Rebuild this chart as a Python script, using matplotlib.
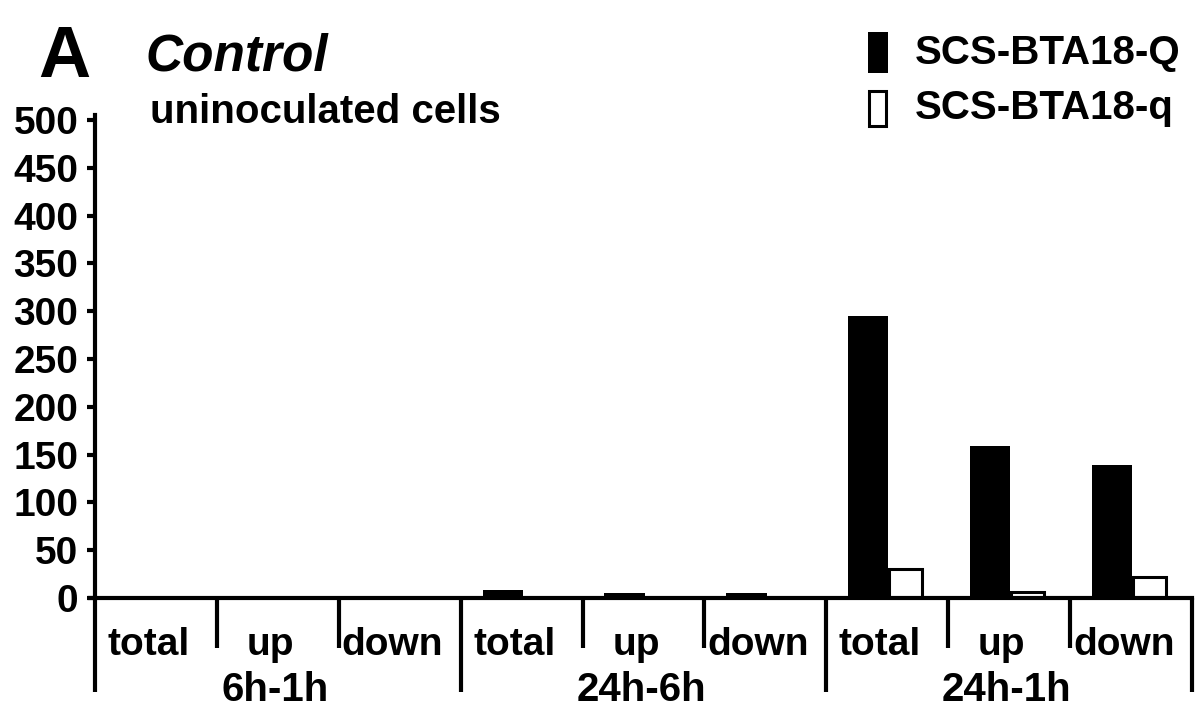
import numpy as np
import matplotlib.pyplot as plt

# data
groups = ['6h-1h', '24h-6h', '24h-1h']
categories = ['total', 'up', 'down'] * 3
q_upper = [0, 0, 0, 8, 5, 5, 295, 159, 139]   # SCS-BTA18-Q
q_lower = [0, 0, 0, 0, 0, 0, 30, 6, 22]       # SCS-BTA18-q
yticks = [0, 50, 100, 150, 200, 250, 300, 350, 400, 450, 500]

plt.rcParams['font.family'] = ['Liberation Sans', 'DejaVu Sans']
plt.rcParams['font.weight'] = 'bold'

fig = plt.figure(figsize=(12, 7.13), dpi=100)
ax = fig.add_axes([95 / 1200, 1 - 598 / 713, 1097 / 1200, 478 / 713])

x = np.arange(len(categories))
ax.bar(x - 0.02, q_upper, width=0.33, color='black', align='edge',
       edgecolor='black', linewidth=0)
ax.bar(x + 0.318, q_lower, width=0.27, color='white', align='edge',
       edgecolor='black', linewidth=2.2)

ax.set_xlim(-0.2, 8.8)
ax.set_ylim(0, 500)
ax.set_xticks([])
ax.set_yticks(yticks)
ax.tick_params(axis='y', direction='out', length=6, width=3, labelsize=28, pad=6)
for lab in ax.get_yticklabels():
    lab.set_fontweight('bold')

for s in ['top', 'right']:
    ax.spines[s].set_visible(False)
ax.spines['left'].set_linewidth(3)
ax.spines['bottom'].set_linewidth(3)
ax.spines['left'].set_bounds(0, 505)

tr = ax.get_xaxis_transform()
px = 1 / 478
# extend the y axis below the x axis
ax.plot([-0.2, -0.2], [0, -94 * px], transform=tr, color='black', lw=3,
        clip_on=False, solid_capstyle='butt')
ax.plot([-0.26, -0.2], [0, 0], transform=tr, color='black', lw=3,
        clip_on=False, solid_capstyle='butt')

# bracket ticks below the axis
for b in range(1, 10):
    xb = b - 0.2
    depth = 94 if b % 3 == 0 else 50
    ax.plot([xb, xb], [0, -depth * px], transform=tr, color='black', lw=3,
            clip_on=False, solid_capstyle='butt')

for i, c in enumerate(categories):
    ax.text(i + 0.24, -47 * px, c, transform=tr, ha='center', va='center',
            fontsize=28, fontweight='bold')
for g, name in enumerate(groups):
    ax.text(g * 3 + 1.28, -92 * px, name, transform=tr, ha='center', va='center',
            fontsize=29, fontweight='bold')

# titles
fig.text(38 / 1200, 1 - 58 / 713, 'A', fontsize=52, fontweight='bold',
         va='center', ha='left')
fig.text(145 / 1200, 1 - 57 / 713, 'Control', fontsize=37, fontweight='bold',
         style='italic', va='center', ha='left')
fig.text(150 / 1200, 1 - 112 / 713, 'uninoculated cells', fontsize=29,
         fontweight='bold', va='center', ha='left')

# legend
fig.patches.append(plt.Rectangle((868 / 1200, 1 - 73 / 713), 20 / 1200, 41 / 713,
                                 transform=fig.transFigure, facecolor='black',
                                 edgecolor='black', lw=0))
fig.patches.append(plt.Rectangle((869 / 1200, 1 - 126 / 713), 17 / 1200, 35 / 713,
                                 transform=fig.transFigure, facecolor='white',
                                 edgecolor='black', lw=2.2))
fig.text(915 / 1200, 1 - 53 / 713, 'SCS-BTA18-Q', fontsize=29, fontweight='bold',
         va='center', ha='left')
fig.text(915 / 1200, 1 - 108 / 713, 'SCS-BTA18-q', fontsize=29, fontweight='bold',
         va='center', ha='left')

fig.savefig('out.png', dpi=100)
